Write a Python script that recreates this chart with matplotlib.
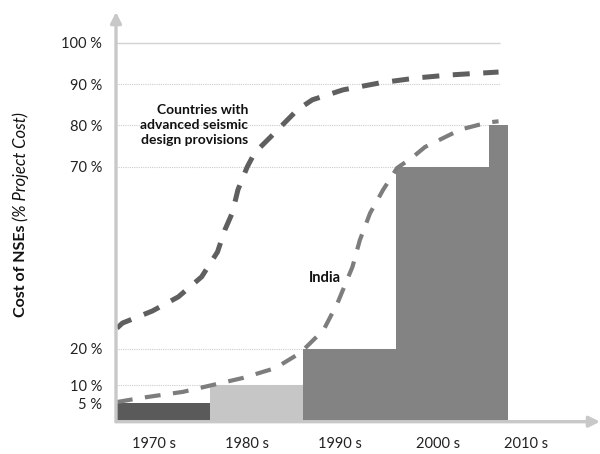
"""
Costo de elementos no estructurales (NSEs) por década
"""
import numpy as np
import matplotlib.pyplot as plt

plt.rcParams['font.family'] = ['Lato', 'DejaVu Sans']

# Datos
decadas = ['1970 s', '1980 s', '1990 s', '2000 s', '2010 s']
pos_decadas = [1974, 1984, 1994, 2004.5, 2014]

bordes_barras = [1970, 1980, 1990, 2000, 2010, 2012]
costo_barras = [5, 10, 20, 70, 80]
colores_barras = ['#5a5a5a', '#c6c6c6', '#838383', '#838383', '#838383']

ticks_y = [5, 10, 20, 70, 80, 90, 100]
etiquetas_y = ['5 %', '10 %', '20 %', '70 %', '80 %', '90 %', '100 %']
rejilla_y = [10, 20, 70, 80, 90]

# Curva: países con provisiones sísmicas avanzadas
anio_avanzados = [1970, 1970.6, 1973.8, 1976.6, 1979.1, 1980.8, 1981.6, 1982.4,
                  1983.0, 1984.0, 1984.8, 1986.5, 1989.4, 1991.0, 1994.3,
                  1998.3, 2002.3, 2005.8, 2011.0]
costo_avanzados = [25.7, 27.1, 30.4, 34.3, 39.8, 46.6, 52.7, 57.4,
                   63.7, 70.0, 73.4, 77.2, 83.8, 86.2, 88.6,
                   90.3, 91.5, 92.2, 92.9]

# Curva: India
anio_india = [1970, 1972.5, 1977.1, 1979.8, 1983.5, 1987.0, 1989.7, 1992.2,
              1993.7, 1995.3, 1996.1, 1997.2, 1998.6, 2000.1, 2001.7,
              2003.1, 2006.9, 2009.8, 2011.0]
costo_india = [5.4, 6.5, 8.2, 9.8, 12.0, 14.7, 18.9, 25.2,
               32.6, 42.5, 49.9, 57.3, 63.7, 69.7, 72.2,
               74.8, 79.0, 80.7, 81.0]


# Escala vertical: un poco más abierta por encima del 70 %
_val = [-100, 0, 70, 250]
_pix = [-364.0, 0.0, 254.8, 254.8 + 180 * 4.14]


def adelante(v):
    return np.interp(v, _val, _pix)


def atras(p):
    return np.interp(p, _pix, _val)


fig = plt.figure(figsize=(6.0, 4.54), dpi=100)
ax = fig.add_axes([116 / 600, 32.3 / 454, 484 / 600, 409.7 / 454])
ax.set_yscale('function', functions=(adelante, atras))
ax.set_xlim(1969.9, 2021.9)
ax.set_ylim(0, 107.4)

# Rejilla
ax.hlines(rejilla_y, 1969.9, 2011.2, colors='#cccccc', linestyles=(0, (1, 1)),
          linewidth=0.8, zorder=0)
ax.hlines([100], 1969.9, 2011.2, colors='#d2d2d2', linewidth=1.0, zorder=0)

# Barras por década
anchos = np.diff(bordes_barras)
ax.bar(bordes_barras[:-1], costo_barras, width=anchos, align='edge',
       color=colores_barras, linewidth=0, zorder=1)

# Curvas
ax.plot(anio_avanzados, costo_avanzados, color='#5f5f5f', linewidth=3.6,
        linestyle=(0, (3.4, 2.7)), dash_capstyle='butt', zorder=3)
ax.plot(anio_india, costo_india, color='#7d7d7d', linewidth=3.0,
        linestyle=(0, (3.8, 3.0)), dash_capstyle='butt', zorder=3)

ax.text(1984.1, 80.1, 'Countries with\nadvanced seismic\ndesign provisions',
        ha='right', va='center', multialignment='right', fontsize=10,
        fontweight='bold', color='#111111', linespacing=1.3, zorder=4)
ax.text(1992.3, 39.5, 'India', ha='center', va='center', fontsize=10.5,
        fontweight='bold', color='#111111', zorder=4)

# Ejes con flechas
for s in ax.spines.values():
    s.set_visible(False)
gris_eje = '#c8c8c8'
ax.annotate('', xy=(0.0, 1.0), xytext=(0.0, 0.0), xycoords='axes fraction',
            arrowprops=dict(arrowstyle='-|>', color=gris_eje, lw=2.4,
                            mutation_scale=16, shrinkA=0, shrinkB=0),
            annotation_clip=False, zorder=5)
ax.annotate('', xy=(1.0, 0.0), xytext=(0.0, 0.0), xycoords='axes fraction',
            arrowprops=dict(arrowstyle='-|>', color=gris_eje, lw=2.4,
                            mutation_scale=16, shrinkA=0, shrinkB=0),
            annotation_clip=False, zorder=5)

ax.set_yticks(ticks_y)
ax.set_yticklabels(etiquetas_y)
ax.set_xticks(pos_decadas)
ax.set_xticklabels(decadas)
ax.minorticks_off()
ax.tick_params(axis='y', length=0, pad=10, labelsize=10.5, labelcolor='#222222')
ax.tick_params(axis='x', length=0, pad=11, labelsize=10.5, labelcolor='#222222')

# Etiqueta del eje Y: parte en negrita y parte en cursiva
t1 = fig.text(21 / 600, 137 / 454, 'Cost of NSEs', rotation=90,
              rotation_mode='anchor', ha='left', va='center', fontsize=11.5,
              fontweight='bold', color='#111111')
fig.canvas.draw()
caja = t1.get_window_extent()
fig.text(21 / 600, (caja.y1 + 4) / 454, '(% Project Cost)', rotation=90,
         rotation_mode='anchor', ha='left', va='center', fontsize=12,
         fontstyle='italic', color='#111111')

fig.savefig('out.png', dpi=100)
